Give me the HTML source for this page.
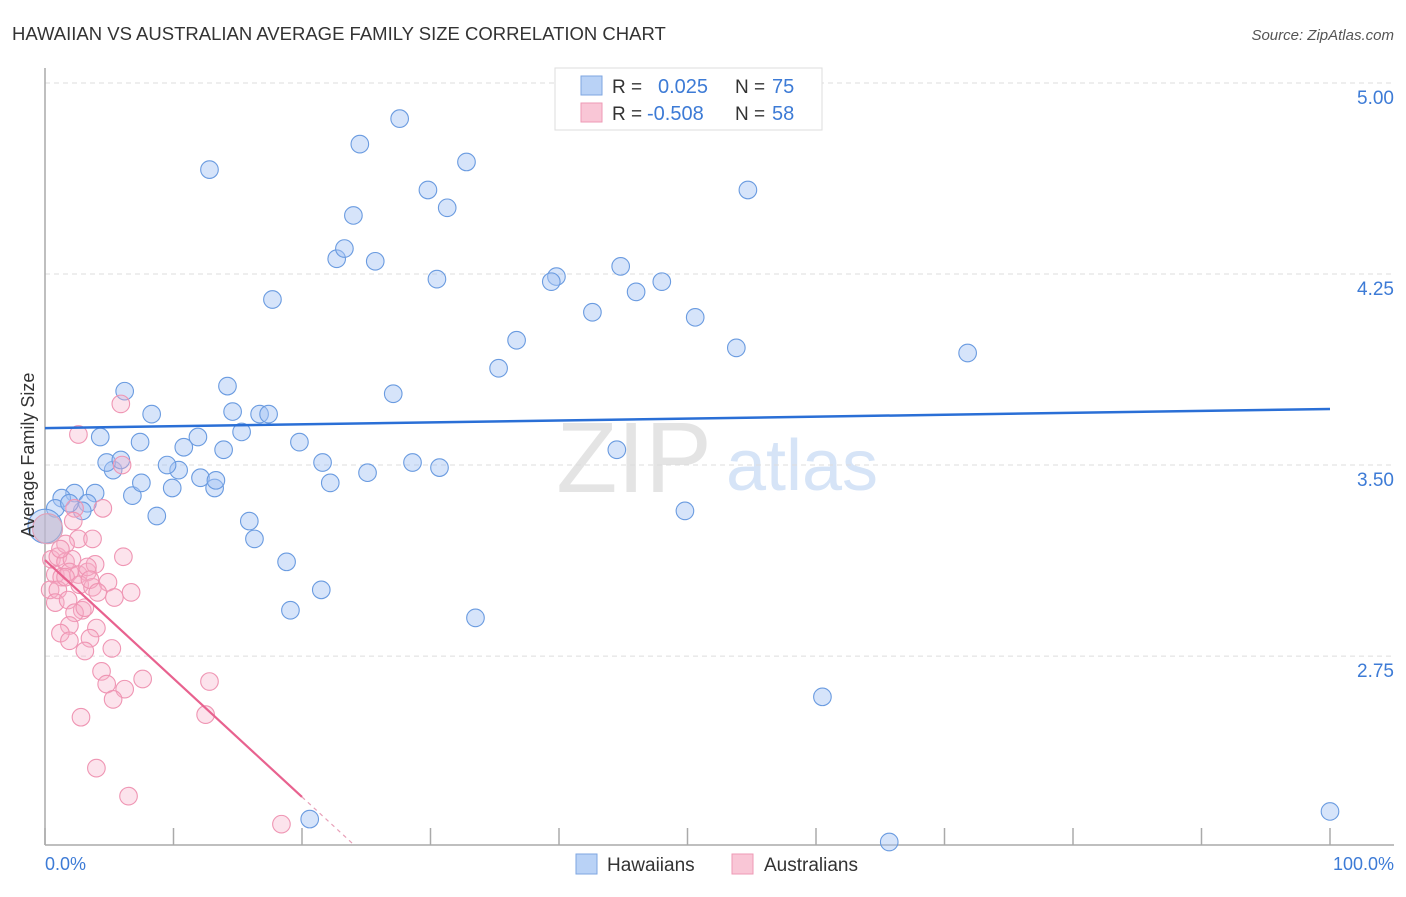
<!DOCTYPE html>
<html><head><meta charset="utf-8"><style>
body{margin:0;background:#fff;font-family:"Liberation Sans",sans-serif;}
svg text{font-family:"Liberation Sans",sans-serif;}
</style></head><body>
<svg id="chart" width="1406" height="892">
<text x="12" y="40" font-size="18.5" fill="#333">HAWAIIAN VS AUSTRALIAN AVERAGE FAMILY SIZE CORRELATION CHART</text>
<text x="1394" y="40" font-size="15" fill="#555" font-style="italic" text-anchor="end">Source: ZipAtlas.com</text>
<text x="634" y="492" font-size="100" fill="#e4e4e4" font-family="Liberation Serif" text-anchor="middle">ZIP</text>
<text x="802" y="490" font-size="72" fill="#d6e4f7" text-anchor="middle">atlas</text>
<g id="grid"></g><g id="axes"></g><g id="pts"></g><g id="trend"></g>
<text transform="translate(34,455) rotate(-90)" font-size="18" fill="#333" text-anchor="middle">Average Family Size</text>
<text x="45" y="870" font-size="18" fill="#3d7bd6">0.0%</text>
<text x="1394" y="870" font-size="18" fill="#3d7bd6" text-anchor="end">100.0%</text>
<g>
<rect x="555" y="68" width="267" height="62" fill="#fff" stroke="#ddd"/>
<rect x="581" y="76" width="21" height="19" fill="#b9d2f6" stroke="#7ea6e0"/>
<rect x="581" y="103" width="21" height="19" fill="#f9c6d6" stroke="#ee9ab5"/>
<text x="612" y="93" font-size="19" fill="#333">R = </text><text x="658" y="93" font-size="20" fill="#3d7bd6">0.025</text>
<text x="735" y="93" font-size="19" fill="#333">N = </text><text x="772" y="93" font-size="20" fill="#3d7bd6">75</text>
<text x="612" y="120" font-size="19" fill="#333">R = </text><text x="647" y="120" font-size="20" fill="#3d7bd6">-0.508</text>
<text x="735" y="120" font-size="19" fill="#333">N = </text><text x="772" y="120" font-size="20" fill="#3d7bd6">58</text>
</g>
<g>
<rect x="576" y="854" width="21" height="20" fill="#b9d2f6" stroke="#7ea6e0"/>
<text x="607" y="871" font-size="19" fill="#333">Hawaiians</text>
<rect x="732" y="854" width="21" height="20" fill="#f9c6d6" stroke="#ee9ab5"/>
<text x="764" y="871" font-size="19" fill="#333">Australians</text>
</g>
</svg>
<script>
const yTicks=[5.00,4.25,3.50,2.75];
const yTickLabels=["5.00","4.25","3.50","2.75"];
const xTicks=[0,10,20,30,40,50,60,70,80,90,100];
const blueX=[100,65.7,60.5,20.6,33.5,19.1,21.5,18.8,16.3,15.9,49.8,8.7,6.8,9.9,13.2,12.1,13.3,10.4,9.5,5.3,4.8,5.9,7.5,3.9,2.3,1.3,3.3,2.9,0.8,1.9,4.3,7.4,10.8,11.9,13.9,15.3,8.3,14.6,16.7,17.4,6.2,14.2,19.8,21.6,22.2,25.1,28.6,30.7,44.5,27.1,35.3,36.7,53.8,71.8,50.6,42.6,17.7,46.0,48.0,44.8,39.8,39.4,30.5,25.7,22.7,23.3,24.0,31.3,29.8,54.7,32.8,24.5,27.6,12.8];
const blueY=[2.14,2.02,2.59,2.11,2.90,2.93,3.01,3.12,3.21,3.28,3.32,3.30,3.38,3.41,3.41,3.45,3.44,3.48,3.50,3.48,3.51,3.52,3.43,3.39,3.39,3.37,3.35,3.32,3.33,3.35,3.61,3.59,3.57,3.61,3.56,3.63,3.70,3.71,3.70,3.70,3.79,3.81,3.59,3.51,3.43,3.47,3.51,3.49,3.56,3.78,3.88,3.99,3.96,3.94,4.08,4.10,4.15,4.18,4.22,4.28,4.24,4.22,4.23,4.30,4.31,4.35,4.48,4.51,4.58,4.58,4.69,4.76,4.86,4.66];
const pinkX=[0.5,1.0,1.6,2.1,0.8,1.3,1.9,2.6,3.3,0.4,1.0,1.6,2.7,3.7,4.9,3.9,3.3,6.1,2.3,4.5,2.6,3.7,0.8,1.8,2.9,2.3,3.1,5.4,6.7,4.0,1.9,1.2,3.5,5.2,3.1,1.9,4.4,4.8,6.2,5.3,7.6,12.8,12.5,2.8,4.0,6.5,18.4,5.9,2.6,6.0,2.2,1.6,3.5,1.2,4.1];
const pinkY=[3.13,3.14,3.12,3.13,3.07,3.06,3.08,3.07,3.08,3.01,3.01,3.06,3.03,3.02,3.04,3.11,3.10,3.14,3.33,3.33,3.21,3.21,2.96,2.97,2.93,2.92,2.94,2.98,3.00,2.86,2.87,2.84,2.82,2.78,2.77,2.81,2.69,2.64,2.62,2.58,2.66,2.65,2.52,2.51,2.31,2.20,2.09,3.74,3.62,3.50,3.28,3.19,3.05,3.17,3.00];
const bigX=[0,0.2];
const bigY=[3.26,3.25];
const blueTrend=[3.645,3.72];
const pinkTrend=[3.127,-0.0465];
const NS="http://www.w3.org/2000/svg";
const sx=v=>45+v*12.85;
const sy=v=>83+(5-v)*254.7;
function mk(tag,attrs,parent){const e=document.createElementNS(NS,tag);for(const k in attrs)e.setAttribute(k,attrs[k]);document.getElementById(parent).appendChild(e);return e;}
yTicks.forEach((t,i)=>{
 const l=mk('line',{x1:45,x2:1394,y1:sy(t),y2:sy(t),stroke:'#ddd','stroke-dasharray':'5,4'},'grid');
 
 
 const tx=mk('text',{x:1394,y:sy(t)+21,'font-size':19,fill:'#3d7bd6','text-anchor':'end'},'grid');
 tx.textContent=yTickLabels[i];
 
 
});
const ax=mk('line',{x1:45,x2:45,y1:68,y2:845,stroke:'#aaa','stroke-width':1.5},'axes');


const bx=mk('line',{x1:45,x2:1394,y1:845,y2:845,stroke:'#aaa','stroke-width':1.5},'axes');


xTicks.forEach(t=>{
 const l=mk('line',{x1:sx(t),x2:sx(t),y1:828,y2:845,stroke:'#aaa','stroke-width':1.5},'axes');
 
 
});
blueX.forEach((x,i)=>{
 const c=mk('circle',{cx:sx(x),cy:sy(blueY[i]),r:8.8,fill:'rgba(164,196,245,0.45)',stroke:'#6a9be0','stroke-width':1.1},'pts');
 
 
});
pinkX.forEach((x,i)=>{
 const c=mk('circle',{cx:sx(x),cy:sy(pinkY[i]),r:8.8,fill:'rgba(246,176,200,0.35)',stroke:'#ef95b3','stroke-width':1.1},'pts');
 
 
});
const b1=mk('circle',{cx:sx(bigX[0]),cy:sy(bigY[0]),r:17,fill:'rgba(164,196,245,0.45)',stroke:'#6a9be0','stroke-width':1.1},'pts');


const b2=mk('circle',{cx:sx(bigX[1]),cy:sy(bigY[1]),r:15,fill:'rgba(200,180,200,0.55)',stroke:'#e0a0b8','stroke-width':1.1},'pts');


const bt=mk('line',{x1:sx(0),y1:sy(blueTrend[0]),x2:sx(100),y2:sy(blueTrend[1]),stroke:'#2a6fd6','stroke-width':2.5},'trend');


const pt=mk('line',{x1:sx(0),y1:sy(pinkTrend[0]),x2:sx(20),y2:sy(pinkTrend[0]+pinkTrend[1]*20),stroke:'#e8628f','stroke-width':2.2},'trend');


const pd=mk('line',{x1:sx(20),y1:sy(pinkTrend[0]+pinkTrend[1]*20),x2:sx(24),y2:sy(pinkTrend[0]+pinkTrend[1]*24),stroke:'#e8a0b8','stroke-width':1.2,'stroke-dasharray':'4,4'},'trend');


</script>
</body></html>
